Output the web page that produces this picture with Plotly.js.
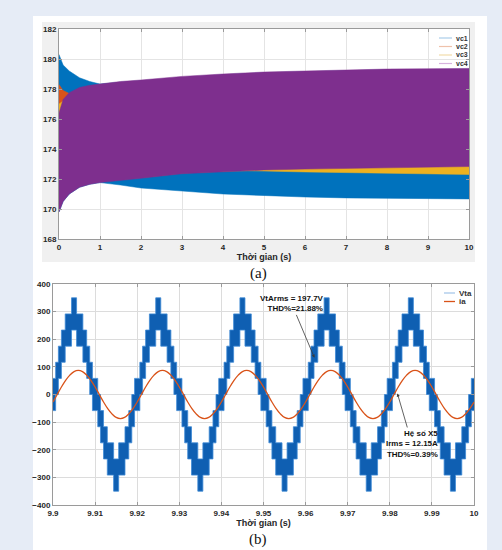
<!DOCTYPE html>
<html>
<head>
<meta charset="utf-8">
<script src="https://cdn.plot.ly/plotly-3.0.1.min.js"></script>
<style>html,body{margin:0;padding:0;background:#e6ecf6;}#chart{width:502px;height:550px;}</style>
</head>
<body>
<div id="chart"></div>
<script>
// ---------- Panel (a): capacitor voltages (oscillation envelopes) ----------
const tA = [0, 0.1, 0.25, 0.5, 0.75, 1, 1.5, 2, 3, 4, 4.6, 5, 6, 7, 8, 9, 10];
const vc1Upper = [180.3, 179.6, 179.2, 178.75, 178.5, 178.33, 178.45, 178.55, 178.79, 178.95, 179.03, 179.08, 179.15, 179.23, 179.28, 179.3, 179.32];
const vc1Lower = [169.8, 170.5, 171.0, 171.45, 171.65, 171.76, 171.6, 171.4, 171.2, 171.0, 170.95, 170.9, 170.8, 170.74, 170.7, 170.68, 170.67];
const vc2Upper = [178.3, 177.9, 177.7, 177.9, 178.1, 178.2, 178.3, 178.4, 178.6, 178.8, 178.9, 178.95, 179.0, 179.1, 179.15, 179.2, 179.2];
const vc2Lower = [170.3, 170.9, 171.3, 171.7, 171.9, 172.0, 172.1, 172.2, 172.45, 172.6, 172.65, 172.7, 172.75, 172.8, 172.85, 172.88, 172.9];
const vc3Upper = [177.0, 177.2, 177.5, 177.8, 178.0, 178.1, 178.2, 178.3, 178.5, 178.7, 178.8, 178.85, 178.95, 179.0, 179.05, 179.1, 179.1];
const vc3Lower = [170.2, 170.8, 171.2, 171.6, 171.8, 171.9, 172.0, 172.1, 172.4, 172.52, 172.55, 172.53, 172.47, 172.42, 172.37, 172.33, 172.3];
const vc4Upper = [176.4, 177.3, 177.75, 178.1, 178.25, 178.33, 178.5, 178.6, 178.84, 179.0, 179.08, 179.13, 179.2, 179.28, 179.33, 179.35, 179.37];
const vc4Lower = [169.8, 170.5, 171.0, 171.45, 171.65, 171.76, 171.92, 172.05, 172.35, 172.5, 172.55, 172.6, 172.66, 172.72, 172.77, 172.8, 172.83];
const vcNames = ['vc1', 'vc2', 'vc3', 'vc4'];

// ---------- Panel (b): output voltage (PWM switching band) and current ----------
const vaTimes = [
9.9,9.90063,9.90128,9.902,9.9029,9.9044,9.9056,9.9071,9.908,9.90872,9.90937,9.91,9.91063,9.91128,9.912,9.9129,9.9144,9.9156,9.9171,9.918,9.91872,9.91937,
9.92,9.92063,9.92128,9.922,9.9229,9.9244,9.9256,9.9271,9.928,9.92872,9.92937,9.93,9.93063,9.93128,9.932,9.9329,9.9344,9.9356,9.9371,9.938,9.93872,9.93937,
9.94,9.94063,9.94128,9.942,9.9429,9.9444,9.9456,9.9471,9.948,9.94872,9.94937,9.95,9.95063,9.95128,9.952,9.9529,9.9544,9.9556,9.9571,9.958,9.95872,9.95937,
9.96,9.96063,9.96128,9.962,9.9629,9.9644,9.9656,9.9671,9.968,9.96872,9.96937,9.97,9.97063,9.97128,9.972,9.9729,9.9744,9.9756,9.9771,9.978,9.97872,9.97937,
9.98,9.98063,9.98128,9.982,9.9829,9.9844,9.9856,9.9871,9.988,9.98872,9.98937,9.99,9.99063,9.99128,9.992,9.9929,9.9944,9.9956,9.9971,9.998,9.99872,9.99937,
10.0];
const vaLow = [
-58.3,0,58.3,116.7,175,233.3,175,116.7,58.3,0,-58.3,-58.3,-116.7,-175,-233.3,-291.7,-350,-291.7,-233.3,-175,-116.7,-58.3,
-58.3,0,58.3,116.7,175,233.3,175,116.7,58.3,0,-58.3,-58.3,-116.7,-175,-233.3,-291.7,-350,-291.7,-233.3,-175,-116.7,-58.3,
-58.3,0,58.3,116.7,175,233.3,175,116.7,58.3,0,-58.3,-58.3,-116.7,-175,-233.3,-291.7,-350,-291.7,-233.3,-175,-116.7,-58.3,
-58.3,0,58.3,116.7,175,233.3,175,116.7,58.3,0,-58.3,-58.3,-116.7,-175,-233.3,-291.7,-350,-291.7,-233.3,-175,-116.7,-58.3,
-58.3,0,58.3,116.7,175,233.3,175,116.7,58.3,0,-58.3,-58.3,-116.7,-175,-233.3,-291.7,-350,-291.7,-233.3,-175,-116.7,-58.3,
-58.3];
const vaHigh = [
58.3,116.7,175,233.3,291.7,350,291.7,233.3,175,116.7,58.3,58.3,0,-58.3,-116.7,-175,-233.3,-175,-116.7,-58.3,0,58.3,
58.3,116.7,175,233.3,291.7,350,291.7,233.3,175,116.7,58.3,58.3,0,-58.3,-116.7,-175,-233.3,-175,-116.7,-58.3,0,58.3,
58.3,116.7,175,233.3,291.7,350,291.7,233.3,175,116.7,58.3,58.3,0,-58.3,-116.7,-175,-233.3,-175,-116.7,-58.3,0,58.3,
58.3,116.7,175,233.3,291.7,350,291.7,233.3,175,116.7,58.3,58.3,0,-58.3,-116.7,-175,-233.3,-175,-116.7,-58.3,0,58.3,
58.3,116.7,175,233.3,291.7,350,291.7,233.3,175,116.7,58.3,58.3,0,-58.3,-116.7,-175,-233.3,-175,-116.7,-58.3,0,58.3,
58.3];
const iaStart = 9.9, iaStep = 0.001;
const iaValues = [
-27,0,27,51,70,83,87,83,70,51,27,0,-27,-51,-70,-83,-87,-83,-70,-51,
-27,0,27,51,70,83,87,83,70,51,27,0,-27,-51,-70,-83,-87,-83,-70,-51,
-27,0,27,51,70,83,87,83,70,51,27,0,-27,-51,-70,-83,-87,-83,-70,-51,
-27,0,27,51,70,83,87,83,70,51,27,0,-27,-51,-70,-83,-87,-83,-70,-51,
-27,0,27,51,70,83,87,83,70,51,27,0,-27,-51,-70,-83,-87,-83,-70,-51,
-27];
const seriesB = ['Vta', 'ia'];
const annoV = {text: 'VtArms = 197.7V<br>THD%=21.88%', t: 9.9621, v: 133, textT: 9.9567, textV: 328};
const annoI = {text: 'Hệ số X5<br>Irms = 12.15A<br>THD%=0.39%', t: 9.9818, v: 4, textT: 9.9853, textV: -179};

// ---------- styling / layout helpers ----------
const W = 502, H = 550;
const px = x => x / W;
const py = y => 1 - y / H;
const vcColors = ['#0072BD', '#D95319', '#EDB120', '#7E2F8E'];
const vcLegendColors = ['#a9cde9', '#efc2ab', '#f2dcaa', '#d7b3de'];
const FONT = 'Liberation Sans, Arial, sans-serif';
const tickFont = {family: FONT, size: 8, color: '#262626', weight: 'bold'};

const uppers = [vc1Upper, vc2Upper, vc3Upper, vc4Upper];
const lowers = [vc1Lower, vc2Lower, vc3Lower, vc4Lower];
const traces = [];
for (let i = 0; i < 4; i++) {
  traces.push({
    type: 'scatter', mode: 'lines', name: vcNames[i], showlegend: false,
    x: tA.concat(tA.slice().reverse()),
    y: uppers[i].concat(lowers[i].slice().reverse()),
    fill: 'toself', fillcolor: vcColors[i],
    line: {color: vcColors[i], width: 0.5},
    xaxis: 'x', yaxis: 'y', hoverinfo: 'skip'
  });
}
traces.push({
  type: 'scatter', mode: 'lines', name: seriesB[0] + ' low', showlegend: false,
  x: vaTimes, y: vaLow, line: {color: '#3f8ad6', width: 0.8, shape: 'hv'},
  xaxis: 'x2', yaxis: 'y2', hoverinfo: 'skip'
});
traces.push({
  type: 'scatter', mode: 'lines', name: seriesB[0], showlegend: false,
  x: vaTimes, y: vaHigh, fill: 'tonexty', fillcolor: '#0f5fb2',
  line: {color: '#3f8ad6', width: 0.8, shape: 'hv'},
  xaxis: 'x2', yaxis: 'y2', hoverinfo: 'skip'
});
traces.push({
  type: 'scatter', mode: 'lines', name: seriesB[1], showlegend: false,
  x0: iaStart, dx: iaStep, y: iaValues,
  line: {color: '#D95319', width: 1.3, shape: 'spline'},
  xaxis: 'x2', yaxis: 'y2', hoverinfo: 'skip'
});

function axisCommon(gridcolor) {
  return {
    showgrid: true, gridcolor: gridcolor, gridwidth: 1, zeroline: false,
    showline: true, linecolor: '#9a9a9a', linewidth: 1, mirror: 'ticks',
    ticks: 'inside', ticklen: 3, tickcolor: '#9a9a9a', tickfont: tickFont,
    automargin: false, fixedrange: true
  };
}

const shapes = [
  {type: 'rect', xref: 'paper', yref: 'paper', x0: px(33), x1: px(487), y0: 0, y1: py(16), fillcolor: '#ffffff', line: {width: 0}, layer: 'below'},
  {type: 'rect', xref: 'paper', yref: 'paper', x0: px(42), x1: px(475), y0: py(262), y1: py(22), fillcolor: '#f0f0f0', line: {width: 0}, layer: 'below'},
  {type: 'rect', xref: 'paper', yref: 'paper', x0: px(59), x1: px(469), y0: py(239), y1: py(29), fillcolor: '#ffffff', line: {width: 0}, layer: 'below'}
];
const annotations = [
  {xref: 'paper', yref: 'paper', x: px(258), y: py(273), text: '(a)', showarrow: false, xanchor: 'center', yanchor: 'middle', font: {family: 'Liberation Serif, Times New Roman, serif', size: 15, color: '#111'}},
  {xref: 'paper', yref: 'paper', x: px(258), y: py(539), text: '(b)', showarrow: false, xanchor: 'center', yanchor: 'middle', font: {family: 'Liberation Serif, Times New Roman, serif', size: 15, color: '#111'}},
  {xref: 'x2', yref: 'y2', x: annoV.t, y: annoV.v, axref: 'x2', ayref: 'y2', ax: annoV.textT, ay: annoV.textV,
   text: annoV.text, align: 'right', showarrow: true, arrowhead: 2, arrowsize: 0.8, arrowwidth: 0.8, arrowcolor: '#3a3a3a', standoff: 0,
   font: {family: FONT, size: 8, color: '#111', weight: 'bold'}},
  {xref: 'x2', yref: 'y2', x: annoI.t, y: annoI.v, axref: 'x2', ayref: 'y2', ax: annoI.textT, ay: annoI.textV,
   text: annoI.text, align: 'right', showarrow: true, arrowhead: 2, arrowsize: 0.8, arrowwidth: 0.8, arrowcolor: '#3a3a3a', standoff: 0,
   font: {family: FONT, size: 8, color: '#111', weight: 'bold'}}
];
// legend for (a)
const legAy = [38, 46.5, 55, 63.5];
for (let i = 0; i < 4; i++) {
  shapes.push({type: 'line', xref: 'paper', yref: 'paper', x0: px(439), x1: px(452), y0: py(legAy[i]), y1: py(legAy[i]), line: {color: vcLegendColors[i], width: 1.2}, layer: 'above'});
  annotations.push({xref: 'paper', yref: 'paper', x: px(454), y: py(legAy[i]), text: vcNames[i], showarrow: false, xanchor: 'left', yanchor: 'middle', font: {family: FONT, size: 7, color: '#333', weight: 'bold'}});
}
// legend for (b)
const legBy = [293, 301.5];
const legBColors = ['#a8c8ea', '#D95319'];
for (let i = 0; i < 2; i++) {
  shapes.push({type: 'line', xref: 'paper', yref: 'paper', x0: px(444), x1: px(455), y0: py(legBy[i]), y1: py(legBy[i]), line: {color: legBColors[i], width: 1.3}, layer: 'above'});
  annotations.push({xref: 'paper', yref: 'paper', x: px(457), y: py(legBy[i]), text: seriesB[i], showarrow: false, xanchor: 'left', yanchor: 'middle', font: {family: FONT, size: 8, color: '#333', weight: 'bold'}});
}

const layout = {
  width: W, height: H, margin: {l: 0, r: 0, t: 0, b: 0},
  paper_bgcolor: '#e6ecf6', plot_bgcolor: 'rgba(0,0,0,0)',
  showlegend: false,
  xaxis: Object.assign(axisCommon('#e4e4e4'), {
    domain: [px(59), px(469)], range: [0, 10], tick0: 0, dtick: 1, anchor: 'y',
    title: {text: 'Thời gian (s)', font: {family: FONT, size: 9, color: '#262626', weight: 'bold'}, standoff: 1}
  }),
  yaxis: Object.assign(axisCommon('#e4e4e4'), {
    domain: [py(239), py(29)], range: [168, 182], tick0: 168, dtick: 2, anchor: 'x'
  }),
  xaxis2: Object.assign(axisCommon('#dcdcdc'), {
    domain: [px(53), px(474)], range: [9.9, 10], tick0: 9.9, dtick: 0.01, anchor: 'y2',
    title: {text: 'Thời gian (s)', font: {family: FONT, size: 9, color: '#262626', weight: 'bold'}, standoff: 1}
  }),
  yaxis2: Object.assign(axisCommon('#dcdcdc'), {
    domain: [py(505), py(284)], range: [-400, 400], tick0: -400, dtick: 100, anchor: 'x2'
  }),
  shapes: shapes,
  annotations: annotations
};

Plotly.newPlot('chart', traces, layout, {staticPlot: true, displayModeBar: false});
</script>
</body>
</html>
